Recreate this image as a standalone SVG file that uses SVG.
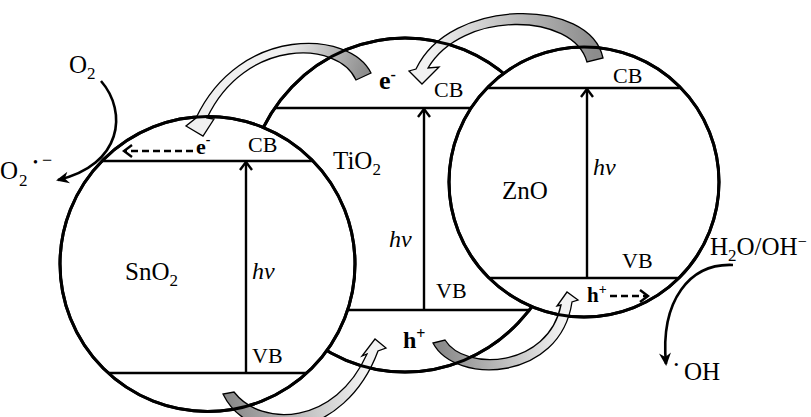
<svg xmlns="http://www.w3.org/2000/svg" width="811" height="417" viewBox="0 0 811 417">
<style>
.shape{fill:#fff;stroke:#000;stroke-width:3}
.outline{fill:none;stroke:#000;stroke-width:3}
.band{stroke:#000;stroke-width:2.6;fill:none}
.hv{stroke:#000;stroke-width:2.4;fill:none;marker-end:url(#chev)}
.dash{stroke:#000;stroke-width:2.6;fill:none;stroke-dasharray:7 4;marker-end:url(#chev)}
.react{stroke:#000;stroke-width:2.6;fill:none;marker-end:url(#barb)}
.garrow{stroke:#000;stroke-width:1.3;stroke-linejoin:miter}
text{font-family:"Liberation Serif","Times New Roman",serif;fill:#000}
.lab{font-size:25px}
.bl{font-size:22px}
.it{font-size:24px;font-style:italic}
.bold{font-weight:bold}
</style>
<defs>
<ellipse id="tio2-shape" cx="405" cy="205" rx="160" ry="167"/>
<circle id="sno2-shape" cx="207.5" cy="264" r="147.5"/>
<circle id="zno-shape" cx="584" cy="182" r="135"/>
<clipPath id="clip-tio2"><use href="#tio2-shape"/></clipPath>
<clipPath id="clip-sno2"><use href="#sno2-shape"/></clipPath>
<clipPath id="clip-zno"><use href="#zno-shape"/></clipPath>
<mask id="mask-tio2" maskUnits="userSpaceOnUse" x="0" y="0" width="811" height="417">
<rect width="811" height="417" fill="#fff"/>
<use href="#sno2-shape" fill="#000"/>
<use href="#zno-shape" fill="#000"/>
</mask>
<marker id="chev" viewBox="-10 -8 12 16" markerWidth="12" markerHeight="16" refX="0" refY="0" orient="auto" markerUnits="userSpaceOnUse" style="overflow:visible">
<path d="M -8 -6 L 0 0 L -8 6" fill="none" stroke="#000" stroke-width="2.4"/>
</marker>
<marker id="barb" viewBox="-12 -7 14 14" markerWidth="14" markerHeight="14" refX="0" refY="0" orient="auto" markerUnits="userSpaceOnUse" style="overflow:visible">
<path d="M 2 0 L -11 -6 L -7 0 L -11 6 Z" fill="#000"/>
</marker>
<linearGradient id="g1" gradientUnits="userSpaceOnUse" x1="365" y1="75" x2="285" y2="45"><stop offset="0" stop-color="#8c8c8c"/><stop offset="1" stop-color="#f0f0f0"/></linearGradient>
<linearGradient id="g2" gradientUnits="userSpaceOnUse" x1="595" y1="60" x2="430" y2="70"><stop offset="0" stop-color="#8c8c8c"/><stop offset="1" stop-color="#f2f2f2"/></linearGradient>
<linearGradient id="g3" gradientUnits="userSpaceOnUse" x1="228" y1="393" x2="365" y2="375"><stop offset="0" stop-color="#8a8a8a"/><stop offset="1" stop-color="#f2f2f2"/></linearGradient>
<linearGradient id="g4" gradientUnits="userSpaceOnUse" x1="439" y1="341" x2="562" y2="325"><stop offset="0" stop-color="#8a8a8a"/><stop offset="1" stop-color="#f2f2f2"/></linearGradient>
</defs>
<rect width="811" height="417" fill="#fff"/>

<g id="tio2">
<use href="#tio2-shape" class="shape"/>
<g clip-path="url(#clip-tio2)">
<line class="band" x1="230" y1="108" x2="580" y2="108"/>
<line class="band" x1="230" y1="310" x2="580" y2="310"/>
</g>
<line class="hv" x1="424" y1="310" x2="424" y2="109"/>
<text class="lab" x="333" y="169">TiO<tspan font-size="17" dy="6">2</tspan></text>
<text class="it" x="389" y="247">hv</text>
<text class="bl" x="436" y="298">VB</text>
<text class="bl" x="434" y="97">CB</text>
<text class="bold" font-size="26" x="379" y="89">e<tspan font-size="16" dy="-9">-</tspan></text>
<text class="bold" font-size="24" x="403" y="348">h<tspan font-size="16" dy="-9">+</tspan></text>
</g>

<g id="sno2">
<use href="#sno2-shape" class="shape"/>
<g clip-path="url(#clip-sno2)">
<line class="band" x1="50" y1="161" x2="360" y2="161"/>
<line class="band" x1="50" y1="373" x2="360" y2="373"/>
</g>
<line class="hv" x1="246" y1="373" x2="246" y2="162"/>
<text class="lab" x="125" y="280">SnO<tspan font-size="17" dy="6">2</tspan></text>
<text class="it" x="252" y="279">hv</text>
<text class="bl" x="252" y="363">VB</text>
<text class="bl" x="248" y="152">CB</text>
<text class="bold" font-size="22" x="196" y="154">e<tspan font-size="14" dy="-10">-</tspan></text>
</g>

<g id="zno">
<use href="#zno-shape" class="shape"/>
<g clip-path="url(#clip-zno)">
<line class="band" x1="440" y1="88" x2="730" y2="88"/>
<line class="band" x1="440" y1="278" x2="730" y2="278"/>
</g>
<line class="hv" x1="587" y1="278" x2="587" y2="89"/>
<text class="lab" x="502" y="199">ZnO</text>
<text class="it" x="593" y="175">hv</text>
<text class="bl" x="622" y="268">VB</text>
<text class="bl" x="613" y="83">CB</text>
<text class="bold" font-size="21" x="587" y="302">h<tspan font-size="14" dy="-8">+</tspan></text>
</g>

<g id="species">
<text class="lab" x="69" y="73">O<tspan font-size="17" dy="6">2</tspan></text>
<text class="lab" x="0" y="179">O</text>
<text font-size="17" x="19" y="186">2</text>
<text font-size="14" x="33" y="167">•</text>
<text font-size="18" x="42" y="166">−</text>
<text font-size="25" x="710" y="255">H<tspan font-size="17" dy="6">2</tspan><tspan dy="-6">O/OH</tspan><tspan font-size="16" dy="-8">−</tspan></text>
<text font-size="13" x="674" y="369">•</text>
<text class="lab" x="684" y="380">OH</text>
</g>

<g id="connectors">
<path class="garrow" fill="url(#g1)" d="M 371,73 C 350,30 240,25 196,118 L 186,126 L 203,136 L 214,119 L 207,118 C 245,38 338,40 356,80 Z"/>
<path class="garrow" fill="url(#g2)" d="M 603,58 C 590,-3 450,-3 416,69 L 409,71 L 422,84 L 439,67 L 428,68 C 462,10 573,12 587,62 Z"/>
<path class="garrow" fill="url(#g3)" d="M 223,394 C 250,450 345,440 378,351 L 386,348 L 375,339 L 362,356 L 367,354 C 335,425 262,428 234,392 Z"/>
<path class="garrow" fill="url(#g4)" d="M 433,343 C 455,385 560,382 572,302 L 578,300 L 567,292 L 557,306 L 561,305 C 548,368 465,372 445,340 Z"/>
<path class="react" d="M 101,81 C 128,112 122,165 58,180"/>
<path class="react" d="M 733,265 C 690,263 660,300 666,364"/>
<path class="dash" d="M 193,151 L 124,151"/>
<path class="dash" d="M 610,296 L 648,296"/>
</g>

<g id="outlines" class="outline">
<use href="#tio2-shape" mask="url(#mask-tio2)"/>
<use href="#sno2-shape"/>
<use href="#zno-shape"/>
</g>
</svg>
